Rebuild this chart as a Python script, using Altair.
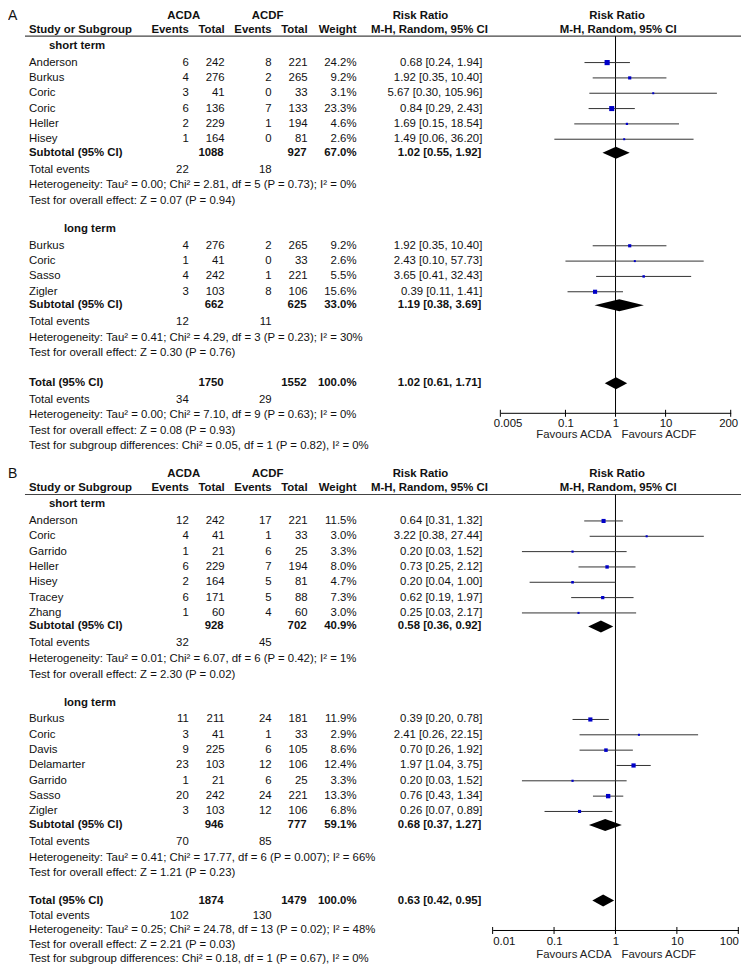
import altair as alt
import pandas as pd

FONT = "Liberation Sans"
FS = 11.4
TXT = "#111111"
BLUE = "#0000c8"

# ---------------- Panel A data ----------------
A_short_study = ["Anderson", "Burkus", "Coric", "Coric", "Heller", "Hisey"]
A_short_acda_events = [6, 4, 3, 6, 2, 1]
A_short_acda_total = [242, 276, 41, 136, 229, 164]
A_short_acdf_events = [8, 2, 0, 7, 1, 0]
A_short_acdf_total = [221, 265, 33, 133, 194, 81]
A_short_weight = [24.2, 9.2, 3.1, 23.3, 4.6, 2.6]
A_short_rr = [0.68, 1.92, 5.67, 0.84, 1.69, 1.49]
A_short_lo = [0.24, 0.35, 0.30, 0.29, 0.15, 0.06]
A_short_hi = [1.94, 10.40, 105.96, 2.43, 18.54, 36.20]
A_short_sub = dict(acda_total=1088, acdf_total=927, weight=67.0, rr=1.02, lo=0.55, hi=1.92,
                   acda_events=22, acdf_events=18,
                   het="Heterogeneity: Tau\u00b2 = 0.00; Chi\u00b2 = 2.81, df = 5 (P = 0.73); I\u00b2 = 0%",
                   test="Test for overall effect: Z = 0.07 (P = 0.94)")

A_long_study = ["Burkus", "Coric", "Sasso", "Zigler"]
A_long_acda_events = [4, 1, 4, 3]
A_long_acda_total = [276, 41, 242, 103]
A_long_acdf_events = [2, 0, 1, 8]
A_long_acdf_total = [265, 33, 221, 106]
A_long_weight = [9.2, 2.6, 5.5, 15.6]
A_long_rr = [1.92, 2.43, 3.65, 0.39]
A_long_lo = [0.35, 0.10, 0.41, 0.11]
A_long_hi = [10.40, 57.73, 32.43, 1.41]
A_long_sub = dict(acda_total=662, acdf_total=625, weight=33.0, rr=1.19, lo=0.38, hi=3.69,
                  acda_events=12, acdf_events=11,
                  het="Heterogeneity: Tau\u00b2 = 0.41; Chi\u00b2 = 4.29, df = 3 (P = 0.23); I\u00b2 = 30%",
                  test="Test for overall effect: Z = 0.30 (P = 0.76)")

A_total = dict(acda_total=1750, acdf_total=1552, weight=100.0, rr=1.02, lo=0.61, hi=1.71,
               acda_events=34, acdf_events=29,
               het="Heterogeneity: Tau\u00b2 = 0.00; Chi\u00b2 = 7.10, df = 9 (P = 0.63); I\u00b2 = 0%",
               test="Test for overall effect: Z = 0.08 (P = 0.93)",
               sub="Test for subgroup differences: Chi\u00b2 = 0.05, df = 1 (P = 0.82), I\u00b2 = 0%")
A_ticks = [0.005, 0.1, 1, 10, 200]

# ---------------- Panel B data ----------------
B_short_study = ["Anderson", "Coric", "Garrido", "Heller", "Hisey", "Tracey", "Zhang"]
B_short_acda_events = [12, 4, 1, 6, 2, 6, 1]
B_short_acda_total = [242, 41, 21, 229, 164, 171, 60]
B_short_acdf_events = [17, 1, 6, 7, 5, 5, 4]
B_short_acdf_total = [221, 33, 25, 194, 81, 88, 60]
B_short_weight = [11.5, 3.0, 3.3, 8.0, 4.7, 7.3, 3.0]
B_short_rr = [0.64, 3.22, 0.20, 0.73, 0.20, 0.62, 0.25]
B_short_lo = [0.31, 0.38, 0.03, 0.25, 0.04, 0.19, 0.03]
B_short_hi = [1.32, 27.44, 1.52, 2.12, 1.00, 1.97, 2.17]
B_short_sub = dict(acda_total=928, acdf_total=702, weight=40.9, rr=0.58, lo=0.36, hi=0.92,
                   acda_events=32, acdf_events=45,
                   het="Heterogeneity: Tau\u00b2 = 0.01; Chi\u00b2 = 6.07, df = 6 (P = 0.42); I\u00b2 = 1%",
                   test="Test for overall effect: Z = 2.30 (P = 0.02)")

B_long_study = ["Burkus", "Coric", "Davis", "Delamarter", "Garrido", "Sasso", "Zigler"]
B_long_acda_events = [11, 3, 9, 23, 1, 20, 3]
B_long_acda_total = [211, 41, 225, 103, 21, 242, 103]
B_long_acdf_events = [24, 1, 6, 12, 6, 24, 12]
B_long_acdf_total = [181, 33, 105, 106, 25, 221, 106]
B_long_weight = [11.9, 2.9, 8.6, 12.4, 3.3, 13.3, 6.8]
B_long_rr = [0.39, 2.41, 0.70, 1.97, 0.20, 0.76, 0.26]
B_long_lo = [0.20, 0.26, 0.26, 1.04, 0.03, 0.43, 0.07]
B_long_hi = [0.78, 22.15, 1.92, 3.75, 1.52, 1.34, 0.89]
B_long_sub = dict(acda_total=946, acdf_total=777, weight=59.1, rr=0.68, lo=0.37, hi=1.27,
                  acda_events=70, acdf_events=85,
                  het="Heterogeneity: Tau\u00b2 = 0.41; Chi\u00b2 = 17.77, df = 6 (P = 0.007); I\u00b2 = 66%",
                  test="Test for overall effect: Z = 1.21 (P = 0.23)")

B_total = dict(acda_total=1874, acdf_total=1479, weight=100.0, rr=0.63, lo=0.42, hi=0.95,
               acda_events=102, acdf_events=130,
               het="Heterogeneity: Tau\u00b2 = 0.25; Chi\u00b2 = 24.78, df = 13 (P = 0.02); I\u00b2 = 48%",
               test="Test for overall effect: Z = 2.21 (P = 0.03)",
               sub="Test for subgroup differences: Chi\u00b2 = 0.18, df = 1 (P = 0.67), I\u00b2 = 0%")
B_ticks = [0.01, 0.1, 1, 10, 100]


def group(label, study, e1, n1, e2, n2, w, rr, lo, hi, sub):
    return dict(label=label, study=study, e1=e1, n1=n1, e2=e2, n2=n2, w=w, rr=rr, lo=lo, hi=hi, sub=sub)


W = 734  # page is 750 wide with an 8px margin on each side

PANELS = [
    dict(letter="A", height=459,
         groups=[group("short term", A_short_study, A_short_acda_events, A_short_acda_total,
                       A_short_acdf_events, A_short_acdf_total, A_short_weight, A_short_rr,
                       A_short_lo, A_short_hi, A_short_sub),
                 group("long term", A_long_study, A_long_acda_events, A_long_acda_total,
                       A_long_acdf_events, A_long_acdf_total, A_long_weight, A_long_rr,
                       A_long_lo, A_long_hi, A_long_sub)],
         total=A_total, ticks=A_ticks, xrange=[493.0, 723.7], size_k=1.1,
         total_gap=30, tot_steps=[16.5, 15.5, 15.3, 15.0],
         axis_gap=29.5, label_pad=4.5, flush_off=7, fav_gap=22.2),
    dict(letter="B", height=497,
         groups=[group("short term", B_short_study, B_short_acda_events, B_short_acda_total,
                       B_short_acdf_events, B_short_acdf_total, B_short_weight, B_short_rr,
                       B_short_lo, B_short_hi, B_short_sub),
                 group("long term", B_long_study, B_long_acda_events, B_long_acda_total,
                       B_long_acdf_events, B_long_acdf_total, B_long_weight, B_long_rr,
                       B_long_lo, B_long_hi, B_long_sub)],
         total=B_total, ticks=B_ticks, xrange=[485.3, 731.3], size_k=1.45,
         total_gap=27.5, tot_steps=[15.5, 14.5, 14.5, 14.0],
         axis_gap=29.5, label_pad=6.0, flush_off=0, fav_gap=25.5),
]

# column layout: x (px), align, weight, font size
COLS = {
    "panel": (0, "left", "normal", 14),
    "h_acda": (176, "center", "bold", FS), "h_acdf": (260, "center", "bold", FS),
    "h_rr1": (413, "center", "bold", FS), "h_rr2": (610, "center", "bold", FS),
    "h_study": (21, "left", "bold", FS), "h_ev1": (181, "right", "bold", FS),
    "h_tot1": (217, "right", "bold", FS), "h_ev2": (264, "right", "bold", FS),
    "h_tot2": (300, "right", "bold", FS), "h_wt": (349, "right", "bold", FS),
    "h_mh1": (422, "center", "bold", FS), "h_mh2": (611, "center", "bold", FS),
    "grp0": (41, "left", "bold", FS), "grp1": (56, "left", "bold", FS),
    "name": (21, "left", "normal", FS), "name_b": (21, "left", "bold", FS),
    "e1": (181, "right", "normal", FS), "n1": (217, "right", "normal", FS),
    "e2": (264, "right", "normal", FS), "n2": (300, "right", "normal", FS),
    "w": (349, "right", "normal", FS), "rr": (475, "right", "normal", FS),
    "n1_b": (216, "right", "bold", FS), "n2_b": (299, "right", "bold", FS),
    "w_b": (349, "right", "bold", FS), "rr_b": (474, "right", "bold", FS),
}

HDR1_Y, HDR2_Y, HLINE_Y = 6, 20, 26.5
DIAMOND_H = 6


def fmt_rr(r, l, h):
    return f"{r:.2f} [{l:.2f}, {h:.2f}]"


def build(panel):
    T, F, D = [], [], []

    def t(y, col, text):
        T.append(dict(y=y, col=col, text=str(text)))

    def diamond(y, key, s):
        D.append(dict(id=key, x=s["lo"], y=y, y2=y))
        D.append(dict(id=key, x=s["rr"], y=y - DIAMOND_H, y2=y + DIAMOND_H))
        D.append(dict(id=key, x=s["hi"], y=y, y2=y))

    t(HDR1_Y, "panel", panel["letter"])
    for col, txt in [("h_acda", "ACDA"), ("h_acdf", "ACDF"), ("h_rr1", "Risk Ratio"), ("h_rr2", "Risk Ratio")]:
        t(HDR1_Y, col, txt)
    for col, txt in [("h_study", "Study or Subgroup"), ("h_ev1", "Events"), ("h_tot1", "Total"),
                     ("h_ev2", "Events"), ("h_tot2", "Total"), ("h_wt", "Weight"),
                     ("h_mh1", "M-H, Random, 95% CI"), ("h_mh2", "M-H, Random, 95% CI")]:
        t(HDR2_Y, col, txt)

    y = HDR2_Y
    for gi, g in enumerate(panel["groups"]):
        y += 16 if gi == 0 else 28
        t(y, f"grp{gi}", g["label"])
        y += 17
        for i in range(len(g["study"])):
            if i:
                y += 15.35
            t(y, "name", g["study"][i])
            t(y, "e1", g["e1"][i]); t(y, "n1", g["n1"][i])
            t(y, "e2", g["e2"][i]); t(y, "n2", g["n2"][i])
            t(y, "w", f"{g['w'][i]:.1f}%")
            t(y, "rr", fmt_rr(g["rr"][i], g["lo"][i], g["hi"][i]))
            F.append(dict(y=y, rr=g["rr"][i], lo=g["lo"][i], hi=g["hi"][i],
                          sz=max(4.0, panel["size_k"] * g["w"][i])))
        s = g["sub"]
        y += 13.5
        t(y, "name_b", "Subtotal (95% CI)")
        t(y, "n1_b", s["acda_total"]); t(y, "n2_b", s["acdf_total"])
        t(y, "w_b", f"{s['weight']:.1f}%")
        t(y, "rr_b", fmt_rr(s["rr"], s["lo"], s["hi"]))
        diamond(y, f"g{gi}", s)
        y += 17
        t(y, "name", "Total events"); t(y, "e1", s["acda_events"]); t(y, "e2", s["acdf_events"])
        y += 15.7
        t(y, "name", s["het"])
        y += 15.5
        t(y, "name", s["test"])

    s = panel["total"]
    st = panel["tot_steps"]
    y += panel["total_gap"]
    total_y = y
    t(y, "name_b", "Total (95% CI)")
    t(y, "n1_b", s["acda_total"]); t(y, "n2_b", s["acdf_total"])
    t(y, "w_b", f"{s['weight']:.1f}%")
    t(y, "rr_b", fmt_rr(s["rr"], s["lo"], s["hi"]))
    diamond(y, "tot", s)
    y += st[0]
    t(y, "name", "Total events"); t(y, "e1", s["acda_events"]); t(y, "e2", s["acdf_events"])
    y += st[1]
    t(y, "name", s["het"])
    y += st[2]
    t(y, "name", s["test"])
    y += st[3]
    t(y, "name", s["sub"])
    return pd.DataFrame(T), pd.DataFrame(F), pd.DataFrame(D), total_y


def panel_chart(panel):
    tdf, fdf, ddf, total_y = build(panel)
    H = panel["height"]
    axis_y = total_y + panel["axis_gap"]
    fav_y = axis_y + panel["fav_gap"]
    ticks = panel["ticks"]

    yscale = alt.Scale(domain=[0, H], range=[0, H])
    xscale = alt.Scale(type="log", domain=[ticks[0], ticks[-1]], range=panel["xrange"], nice=False)
    axis = alt.Axis(values=ticks, format="~g", orient="bottom", offset=axis_y - H,
                    ticks=False, tickSize=0, domainColor="black", domainWidth=1,
                    labelFont=FONT, labelFontSize=FS, labelColor=TXT,
                    labelPadding=panel["label_pad"], labelFlush=True,
                    labelFlushOffset=panel["flush_off"], labelOverlap=False,
                    grid=False, title="")

    def X(field):
        return alt.X(field, type="quantitative", scale=xscale, axis=axis)

    def XD(v):
        return alt.XDatum(v, type="quantitative", scale=xscale, axis=axis)

    def Y(field):
        return alt.Y(field, type="quantitative", scale=yscale, axis=None, stack=None)

    def YD(v):
        return alt.YDatum(v, type="quantitative", scale=yscale, axis=None)

    one = pd.DataFrame({"k": [0]})
    tick_df = pd.DataFrame({"t": ticks})
    layers = []

    # header line
    layers.append(alt.Chart(one).mark_rule(color="#444444", strokeWidth=1.2).encode(
        x=alt.value(17), x2=alt.value(W), y=YD(HLINE_Y)))
    # line of no effect
    layers.append(alt.Chart(one).mark_rule(color="black", strokeWidth=1).encode(
        x=XD(1), y=YD(HLINE_Y), y2=alt.Y2Datum(axis_y)))
    # confidence intervals
    layers.append(alt.Chart(fdf).mark_rule(color="#333333", strokeWidth=1).encode(
        x=X("lo"), x2=alt.X2("hi"), y=Y("y")))
    # study squares
    layers.append(alt.Chart(fdf).mark_square(color=BLUE, opacity=1).encode(
        x=X("rr"), y=Y("y"), size=alt.Size("sz:Q", scale=None)))
    # diamonds
    layers.append(alt.Chart(ddf).mark_area(color="black", orient="vertical", opacity=1).encode(
        x=X("x"), y=Y("y"), y2=alt.Y2("y2"), detail="id:N"))
    # axis tick marks crossing the axis line
    layers.append(alt.Chart(tick_df).mark_rule(color="black", strokeWidth=1).encode(
        x=X("t"), y=YD(axis_y - 3), y2=alt.Y2Datum(axis_y + 4)))
    # favours labels
    layers.append(alt.Chart(one).mark_text(align="right", baseline="middle", dx=-4, font=FONT,
                                           fontSize=FS, color="#222222").encode(
        x=XD(1), y=YD(fav_y), text=alt.value("Favours ACDA")))
    layers.append(alt.Chart(one).mark_text(align="left", baseline="middle", dx=6, font=FONT,
                                           fontSize=FS, color="#222222").encode(
        x=XD(1), y=YD(fav_y), text=alt.value("Favours ACDF")))

    # table text
    for col, (px, align, weight, size) in COLS.items():
        layers.append(
            alt.Chart(tdf).transform_filter(alt.datum.col == col)
            .mark_text(align=align, baseline="middle", font=FONT, fontSize=size,
                       fontWeight=weight, color=TXT)
            .encode(x=alt.value(px), y=Y("y"), text="text:N"))

    return alt.layer(*layers).properties(width=W, height=H)


chart = alt.vconcat(*[panel_chart(p) for p in PANELS], spacing=0, bounds="flush").properties(
    padding=0).configure_view(strokeWidth=0)

chart.save("out.html", embed_options={"renderer": "svg", "actions": False})
